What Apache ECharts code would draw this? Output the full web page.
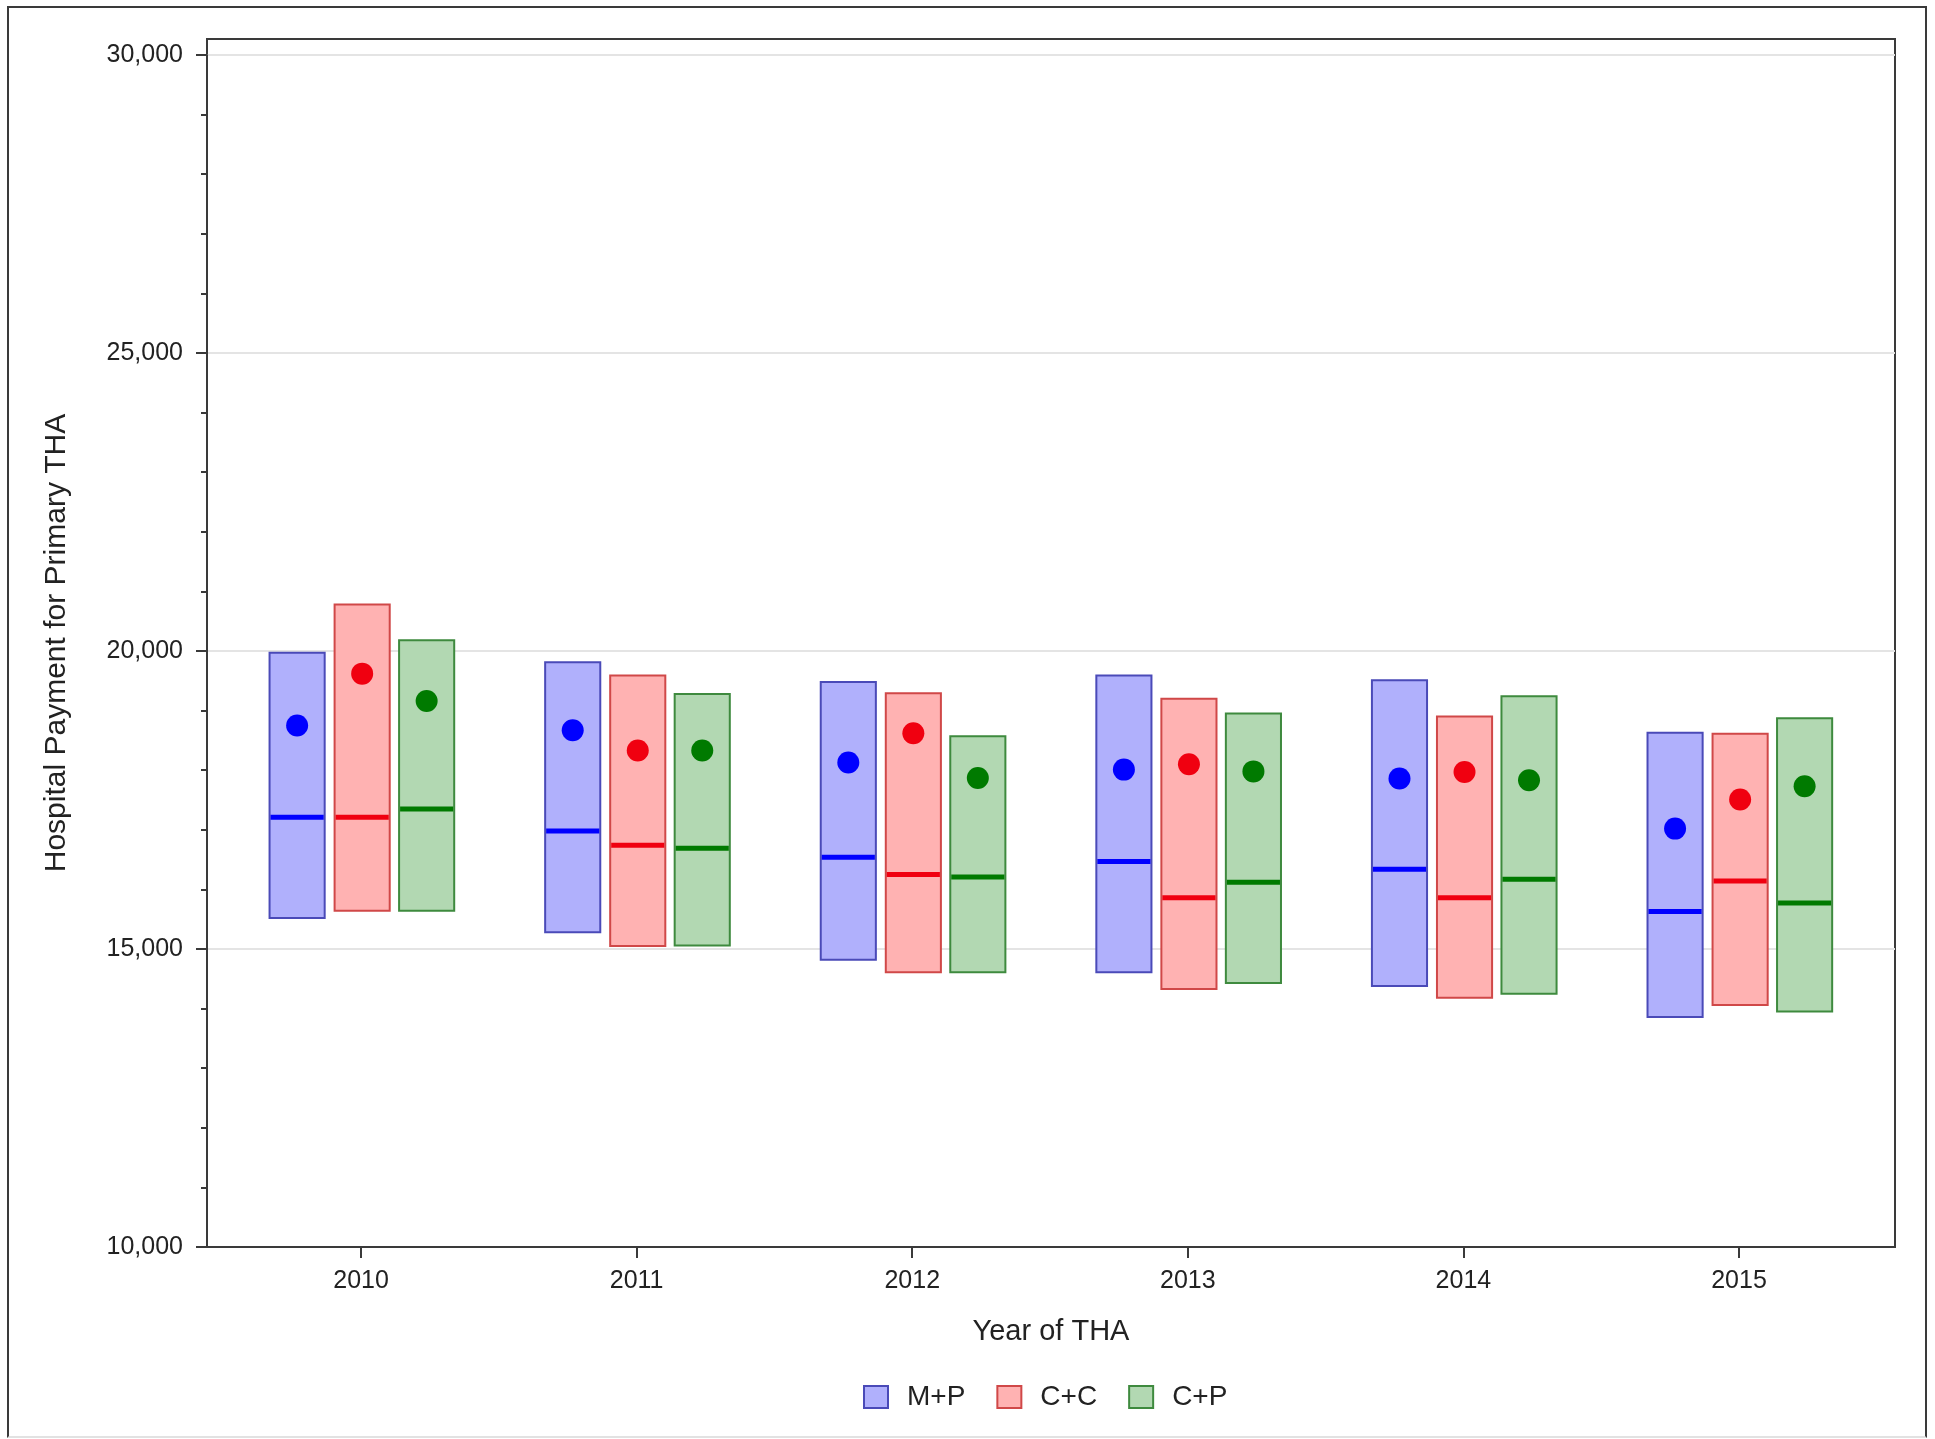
<!DOCTYPE html>
<html>
<head>
<meta charset="utf-8">
<script src="https://cdn.jsdelivr.net/npm/echarts@6/dist/echarts.min.js"></script>
<style>
  html, body { margin: 0; padding: 0; background: #fff; }
  #frame { position: absolute; left: 7px; top: 6px; width: 1916px; height: 1428px; border: 2px solid #3a3a3a; border-bottom-color: #e2e2e2; }
  #chart { position: absolute; left: 0; top: 0; width: 1935px; height: 1439px; }
</style>
</head>
<body>
<div id="frame"></div>
<div id="chart"></div>
<script>
const years = [2010, 2011, 2012, 2013, 2014, 2015]
const yTicks = [10000, 15000, 20000, 25000, 30000]

// box = low / high, line = median, dot = mean
const mpLow = [15520, 15280, 14820, 14610, 14380, 13860]
const mpHigh = [19970, 19810, 19480, 19590, 19510, 18630]
const mpMedian = [17210, 16980, 16540, 16470, 16340, 15630]
const mpMean = [18750, 18670, 18130, 18010, 17860, 17020]

const ccLow = [15640, 15050, 14610, 14330, 14180, 14060]
const ccHigh = [20780, 19590, 19290, 19200, 18900, 18610]
const ccMedian = [17210, 16740, 16250, 15860, 15860, 16140]
const ccMean = [19620, 18330, 18620, 18100, 17970, 17510]

const cpLow = [15640, 15060, 14610, 14430, 14250, 13950]
const cpHigh = [20180, 19280, 18570, 18950, 19240, 18870]
const cpMedian = [17350, 16690, 16210, 16120, 16170, 15770]
const cpMean = [19160, 18330, 17870, 17980, 17830, 17730]

const groups = [
  { name: 'M+P', low: mpLow, high: mpHigh, median: mpMedian, mean: mpMean, offset: -0.232, fill: '#b0b0fc', stroke: '#4a4ab8', line: '#0000ff' },
  { name: 'C+C', low: ccLow, high: ccHigh, median: ccMedian, mean: ccMean, offset: 0.004, fill: '#ffb2b2', stroke: '#d04848', line: '#f00010' },
  { name: 'C+P', low: cpLow, high: cpHigh, median: cpMedian, mean: cpMean, offset: 0.238, fill: '#b2d8b2', stroke: '#3e8a3e', line: '#007a00' }
]

const fontFamily = '"Liberation Sans", Arial, sans-serif'
const textColor = '#222'
const axisColor = '#3a3a3a'

function boxItem (g) {
  return function (params, api) {
    const x = api.value(0)
    const unit = api.size([1, 0])[0]
    const cx = api.coord([x, 10000])[0] + g.offset * unit
    const half = 0.1 * unit
    const yLow = api.coord([x, api.value(1)])[1]
    const yHigh = api.coord([x, api.value(2)])[1]
    const yMed = api.coord([x, api.value(3)])[1]
    const yMean = api.coord([x, api.value(4)])[1]
    return {
      type: 'group',
      children: [
        { type: 'rect', shape: { x: cx - half, y: yHigh, width: half * 2, height: yLow - yHigh }, style: { fill: g.fill, stroke: g.stroke, lineWidth: 2 } },
        { type: 'line', shape: { x1: cx - half + 1, y1: yMed, x2: cx + half - 1, y2: yMed }, style: { stroke: g.line, lineWidth: 5 } },
        { type: 'circle', shape: { cx: cx, cy: yMean, r: 11 }, style: { fill: g.line } }
      ]
    }
  }
}

const chart = echarts.init(document.getElementById('chart'))
const option = {
  animation: false,
  textStyle: { fontFamily: fontFamily },
  grid: [
    // outer plot frame
    { left: 207, right: 40, top: 39, bottom: 192, show: true, borderColor: axisColor, borderWidth: 2, backgroundColor: 'transparent' },
    // data area
    { left: 207, right: 40, top: 55, bottom: 192 }
  ],
  legend: {
    left: 858,
    top: 1378,
    icon: 'rect',
    itemWidth: 24,
    itemHeight: 22,
    itemGap: 31,
    textStyle: { fontSize: 28, color: textColor, fontFamily: fontFamily, padding: [0, 0, 0, 14] },
    data: groups.map(g => g.name)
  },
  xAxis: [
    { gridIndex: 0, type: 'value', min: 0, max: 1, show: false },
    {
      gridIndex: 1,
      type: 'value',
      min: 2009.441,
      max: 2015.566,
      name: 'Year of THA',
      nameLocation: 'middle',
      nameGap: 70,
      nameTextStyle: { fontSize: 29, color: textColor },
      axisLine: { lineStyle: { color: axisColor, width: 2 } },
      axisTick: { customValues: years, length: 11, lineStyle: { color: axisColor, width: 2 } },
      axisLabel: { customValues: years, margin: 22, fontSize: 25, color: textColor, formatter: v => String(v) },
      splitLine: { show: false }
    }
  ],
  yAxis: [
    {
      gridIndex: 0,
      type: 'value',
      min: 0,
      max: 1,
      name: 'Hospital Payment for Primary THA',
      nameLocation: 'middle',
      nameRotate: 90,
      nameGap: 135,
      nameTextStyle: { fontSize: 30, color: textColor },
      axisLine: { show: false },
      axisTick: { show: false },
      axisLabel: { show: false },
      splitLine: { show: false }
    },
    {
      gridIndex: 1,
      type: 'value',
      min: yTicks[0],
      max: yTicks[yTicks.length - 1],
      interval: 5000,
      axisLine: { show: true, lineStyle: { color: axisColor, width: 2 } },
      axisTick: { show: true, length: 11, lineStyle: { color: axisColor, width: 2 } },
      minorTick: { show: true, splitNumber: 5, length: 6, lineStyle: { color: axisColor, width: 2 } },
      axisLabel: { margin: 24, fontSize: 25, color: textColor, formatter: v => v.toLocaleString('en-US') },
      splitLine: { show: true, lineStyle: { color: '#e4e4e4', width: 2 } }
    }
  ],
  series: groups.map(g => ({
    name: g.name,
    type: 'custom',
    xAxisIndex: 1,
    yAxisIndex: 1,
    itemStyle: { color: g.fill, borderColor: g.stroke, borderWidth: 2 },
    encode: { x: 0, y: [1, 2, 3, 4] },
    renderItem: boxItem(g),
    data: years.map((y, i) => [y, g.low[i], g.high[i], g.median[i], g.mean[i]])
  }))
}
chart.setOption(option)
</script>
</body>
</html>
